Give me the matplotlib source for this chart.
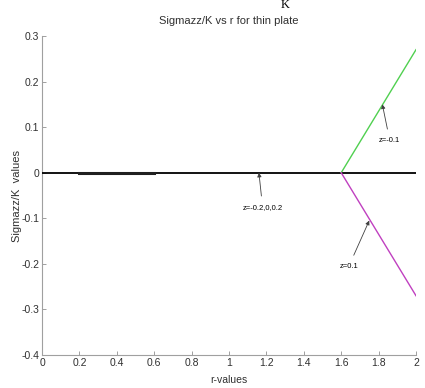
import matplotlib
matplotlib.use("Agg")
import matplotlib.pyplot as plt

# Data
r_zero = [0.0, 2.0]
s_zero = [0.0, 0.0]
r_flat = [0.2, 0.6]
s_flat = [0.0, 0.0]
r_branch = [1.6, 2.0]
s_green = [0.0, 0.27]      # z = -0.1
s_magenta = [0.0, -0.27]   # z = 0.1

xticks = [0, 0.2, 0.4, 0.6, 0.8, 1, 1.2, 1.4, 1.6, 1.8, 2]
xticklabels = ["0", "0.2", "0.4", "0.6", "0.8", "1", "1.2", "1.4", "1.6", "1.8", "2"]
yticks = [-0.4, -0.3, -0.2, -0.1, 0, 0.1, 0.2, 0.3]
yticklabels = ["-0.4", "-0.3", "-0.2", "-0.1", "0", "0.1", "0.2", "0.3"]

annotations = [
    ("z=-0.1", (1.82, 0.15), (1.86, 0.07)),
    ("z=-0.2,0,0.2", (1.16, 0.0), (1.18, -0.077)),
    ("z=0.1", (1.75, -0.105), (1.64, -0.206)),
]

FONT = ["Liberation Sans Narrow", "Liberation Sans", "DejaVu Sans"]

fig = plt.figure(figsize=(4.25, 3.88), dpi=100)
ax = fig.add_axes([42/425, 1-355/388, (416-42)/425, (355-36)/388])

ax.plot(r_flat, s_flat, color="#50d050", lw=1.0, zorder=2)
ax.plot(r_flat, s_flat, color="#c040c0", lw=1.0, zorder=2)
ax.plot(r_zero, s_zero, color="black", lw=1.3, zorder=3)
ax.plot(r_flat, s_flat, color="#202020", lw=2.2, zorder=4)
ax.plot(r_branch, s_green, color="#50d050", lw=1.0, zorder=3)
ax.plot(r_branch, s_magenta, color="#c040c0", lw=1.0, zorder=3)

for label, tip, txt in annotations:
    ax.annotate(label, xy=tip, xytext=txt, ha="center", va="center",
                fontsize=5.5, family=FONT,
                arrowprops=dict(arrowstyle="-|>", color="#404040", lw=0.6,
                                mutation_scale=6, shrinkA=4, shrinkB=0))

ax.set_xlim(0, 2)
ax.set_ylim(-0.4, 0.3)
ax.set_xticks(xticks)
ax.set_xticklabels(xticklabels, family=FONT, fontsize=7.5, color="#303030")
ax.set_yticks(yticks)
ax.set_yticklabels(yticklabels, family=FONT, fontsize=7.5, color="#303030")
ax.tick_params(direction="in", length=3, width=0.6, color="#909090", pad=2)

for s in ["top", "right"]:
    ax.spines[s].set_visible(False)
for s in ["left", "bottom"]:
    ax.spines[s].set_color("#a0a0a0")
    ax.spines[s].set_linewidth(0.8)

ax.set_title("Sigmazz/K vs r for thin plate", family=FONT, fontsize=8,
             color="#303030", pad=9)
ax.set_xlabel("r-values", family=FONT, fontsize=7.5, color="#303030")
ax.xaxis.set_label_coords(0.5, -(380 - 355) / 319, transform=ax.transAxes)
ax.xaxis.label.set_va("center")
ax.set_ylabel("Sigmazz/K  values", family=["Liberation Sans", "DejaVu Sans"],
              fontsize=8, color="#303030")
ax.yaxis.set_label_coords(-(42 - 17) / 374, 0.5, transform=ax.transAxes)
ax.yaxis.label.set_va("center")

fig.text(285/425, 1-8/388, "K", family=["Liberation Serif", "DejaVu Serif"],
         fontsize=9, ha="center", va="baseline", color="black")

fig.savefig("out.png", dpi=100)
